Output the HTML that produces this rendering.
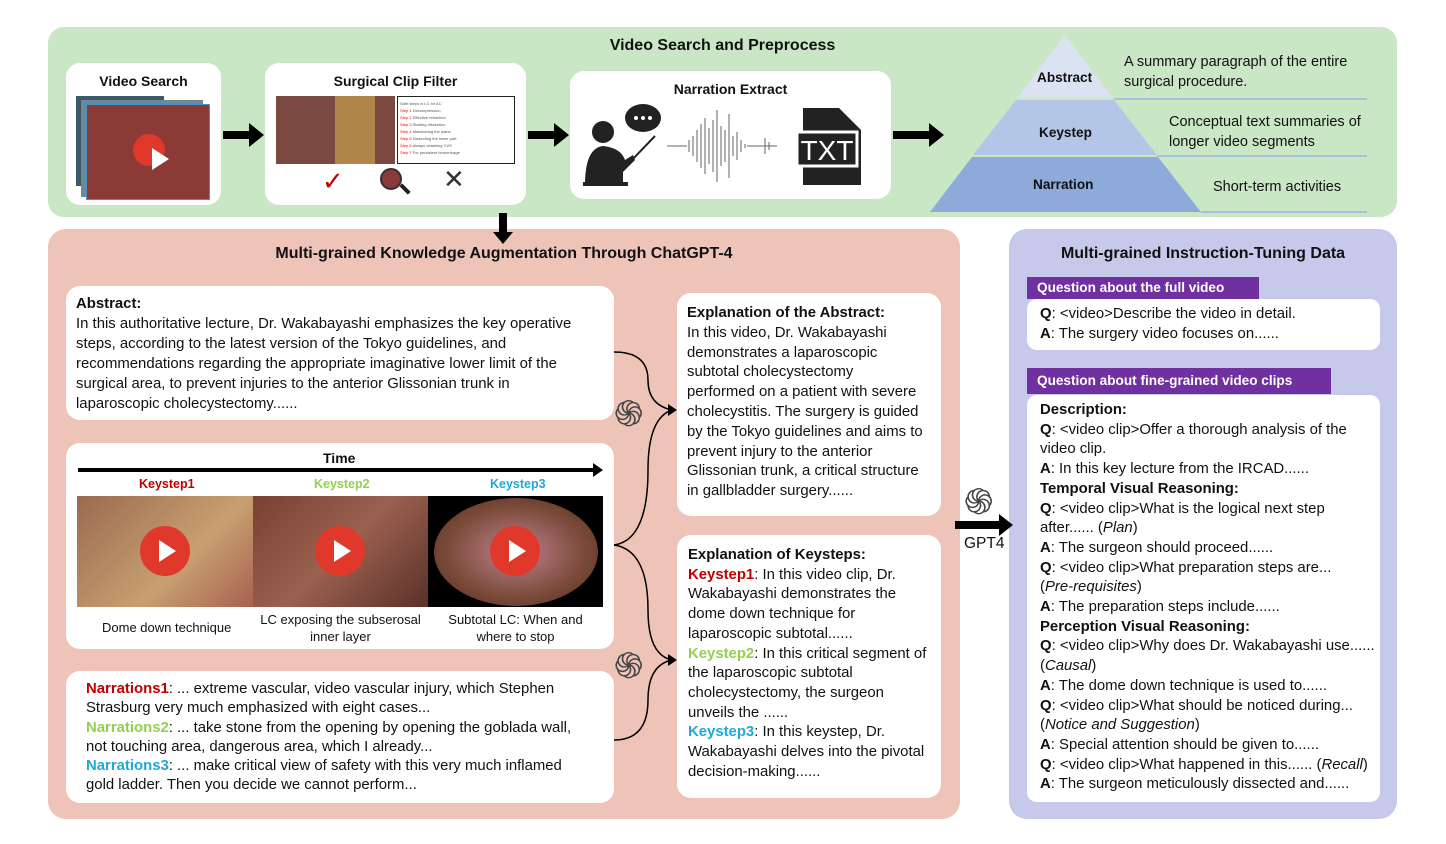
<!DOCTYPE html>
<html><head><meta charset="utf-8"><style>
*{margin:0;padding:0;box-sizing:border-box}
body{width:1446px;height:844px;background:#fff;position:relative;overflow:hidden;font-family:"Liberation Sans",sans-serif;color:#111}
.a{position:absolute}
.box{position:absolute;background:#fff;border-radius:14px}
.t{position:absolute;font-size:14.9px;white-space:nowrap}
.h{font-weight:bold}
.r{color:#c00000;font-weight:bold}.g{color:#92d050;font-weight:bold}.b{color:#1fa8d8;font-weight:bold}
.ttl{position:absolute;font-weight:bold;font-size:16px;text-align:center;white-space:nowrap}
.ph{position:absolute;background:#7030a0;color:#fff;font-weight:bold;font-size:13.6px;padding-left:10px;line-height:22px}
.play{position:absolute;width:50px;height:50px;border-radius:50%;background:#e0392b}
.play:after{content:"";position:absolute;left:19px;top:14px;border-left:17px solid #fff;border-top:11px solid transparent;border-bottom:11px solid transparent}
</style></head><body>

<!-- top green -->
<div class="a" style="left:48px;top:27px;width:1349px;height:190px;background:#c9e7c4;border-radius:16px"></div>
<div class="ttl" style="left:560px;top:37px;width:325px">Video Search and Preprocess</div>

<div class="box" style="left:66px;top:63px;width:155px;height:142px"></div>
<div class="ttl" style="left:66px;top:73px;width:155px;font-size:14px">Video Search</div>
<div class="a" style="left:76px;top:96px;width:88px;height:90px;background:#3a5a6a"></div>
<div class="a" style="left:81px;top:100px;width:122px;height:97px;background:#6a8a9a"></div>
<div class="a" style="left:86px;top:104px;width:124px;height:96px;background:#8b3a36;border:1px solid #4a90c0"></div>
<div class="play" style="left:133px;top:134px;width:32px;height:32px"></div>

<div class="box" style="left:265px;top:63px;width:261px;height:142px"></div>
<div class="ttl" style="left:265px;top:73px;width:261px;font-size:14px">Surgical Clip Filter</div>
<div class="a" style="left:276px;top:96px;width:119px;height:68px;background:#7a4a40"></div>
<div class="a" style="left:335px;top:96px;width:40px;height:68px;background:#c8a050;opacity:.7"></div>
<div class="a" style="left:397px;top:96px;width:118px;height:68px;border:1px solid #222;background:#fff"></div>
<div class="a" style="left:400px;top:100px;width:112px;font-size:4px;line-height:7px;color:#555">Safe steps in LC for AC<br><span style="color:red">Step 1</span> Decompression<br><span style="color:red">Step 2</span> Effective retraction<br><span style="color:red">Step 3</span> Starting dissection<br><span style="color:red">Step 4</span> Maintaining the plane<br><span style="color:red">Step 5</span> Dissecting the lower part<br><span style="color:red">Step 6</span> Always obtaining CVS<br><span style="color:red">Step 7</span> For persistent hemorrhage</div>
<div class="a" style="left:322px;top:166px;font-size:26px;color:#c00000">✓</div>
<div class="a" style="left:380px;top:168px;width:22px;height:22px;border-radius:50%;background:#8a3a3a;border:2px solid #333"></div>
<div class="a" style="left:399px;top:187px;width:12px;height:4px;background:#222;transform:rotate(45deg)"></div>
<div class="a" style="left:443px;top:164px;font-size:26px;color:#333">✕</div>

<div class="box" style="left:570px;top:71px;width:321px;height:128px"></div>
<div class="ttl" style="left:570px;top:81px;width:321px;font-size:14px">Narration Extract</div>
<svg class="a" style="left:575px;top:100px" width="315" height="92">
<circle cx="28" cy="32" r="11" fill="#222"/><path d="M10 85 Q10 48 28 46 Q46 48 50 60 L58 55 L60 60 L48 72 L48 85 Z" fill="#222"/>
<rect x="8" y="82" width="45" height="4" fill="#222"/>
<line x1="55" y1="62" x2="80" y2="36" stroke="#222" stroke-width="2"/>
<ellipse cx="68" cy="18" rx="18" ry="14" fill="#222"/><circle cx="61" cy="18" r="2" fill="#fff"/><circle cx="68" cy="18" r="2" fill="#fff"/><circle cx="75" cy="18" r="2" fill="#fff"/>
<g stroke="#666" stroke-width="1">
<path d="M92 46 h20 M114 40v12 M118 36v20 M122 30v32 M126 24v44 M130 18v56 M134 28v36 M138 20v52 M142 10v72 M146 26v40 M150 30v32 M154 14v64 M158 36v20 M162 32v28 M166 40v12 M170 44v4 M172 46h30 M190 38v16 M194 42v8"/></g>
<path d="M228 8 h36 l22 22 v55 h-58 z" fill="#222"/><rect x="222" y="32" width="60" height="34" fill="#222" stroke="#fff" stroke-width="3"/>
<text x="252" y="60" font-family="Liberation Sans" font-size="28" fill="#fff" text-anchor="middle">TXT</text>
</svg>

<!-- pyramid -->
<svg class="a" style="left:0;top:0" width="1446" height="230">
<polygon points="1065,35 1113,98 1017,98" fill="#dbe3f3"/>
<polygon points="1016,100 1114,100 1157,155 973,155" fill="#b4c6e7"/>
<polygon points="972,157 1158,157 1201,212 930,212" fill="#8eaadb"/>
<g stroke="#a8c0dc" stroke-width="2"><line x1="1114" y1="99" x2="1367" y2="99"/><line x1="1157" y1="156" x2="1367" y2="156"/><line x1="1201" y1="212" x2="1367" y2="212"/></g>
</svg>
<div class="t h" style="left:1037px;top:70px;font-size:13.6px">Abstract</div>
<div class="t h" style="left:1039px;top:125px;font-size:13.6px">Keystep</div>
<div class="t h" style="left:1033px;top:177px;font-size:13.6px">Narration</div>
<div class="t" style="left:1124px;top:52px;line-height:20px;font-size:14.5px">A summary paragraph of the entire<br>surgical procedure.</div>
<div class="t" style="left:1169px;top:112px;line-height:20px;font-size:14.5px">Conceptual text summaries of<br>longer video segments</div>
<div class="t" style="left:1213px;top:179px;font-size:14.5px">Short-term activities</div>

<!-- pink -->
<div class="a" style="left:48px;top:229px;width:912px;height:590px;background:#eec4b8;border-radius:18px"></div>
<div class="ttl" style="left:48px;top:245px;width:912px">Multi-grained Knowledge Augmentation Through ChatGPT-4</div>

<div class="box" style="left:66px;top:286px;width:548px;height:134px"></div>
<div class="t" style="left:76px;top:294px;line-height:20px"><span class="h">Abstract:</span><br>In this authoritative lecture, Dr. Wakabayashi emphasizes the key operative<br>steps, according to the latest version of the Tokyo guidelines, and<br>recommendations regarding the appropriate imaginative lower limit of the<br>surgical area, to prevent injuries to the anterior Glissonian trunk in<br>laparoscopic cholecystectomy......</div>

<div class="box" style="left:66px;top:443px;width:548px;height:206px"></div>
<div class="t h" style="left:323px;top:450px;font-size:14px">Time</div>
<div class="t r" style="left:139px;top:477px;font-size:12.5px">Keystep1</div>
<div class="t g" style="left:314px;top:477px;font-size:12.5px">Keystep2</div>
<div class="t b" style="left:490px;top:477px;font-size:12.5px">Keystep3</div>
<div class="a" style="left:77px;top:496px;width:176px;height:111px;background:linear-gradient(135deg,#9a6a50,#c8a070 60%,#a86050)"></div>
<div class="a" style="left:253px;top:496px;width:175px;height:111px;background:linear-gradient(135deg,#7a4030,#9a6050 50%,#5a3028)"></div>
<div class="a" style="left:428px;top:496px;width:175px;height:111px;background:#000"></div>
<div class="a" style="left:434px;top:498px;width:164px;height:108px;border-radius:50%;background:radial-gradient(#c08090,#7a4a38 60%,#4a2a20)"></div>
<div class="play" style="left:140px;top:526px"></div>
<div class="play" style="left:315px;top:526px"></div>
<div class="play" style="left:490px;top:526px"></div>
<div class="t" style="left:102px;top:620px;font-size:13px">Dome down technique</div>
<div class="t" style="left:253px;top:611px;width:175px;text-align:center;font-size:13px;line-height:17px">LC exposing the subserosal<br>inner layer</div>
<div class="t" style="left:428px;top:611px;width:175px;text-align:center;font-size:13px;line-height:17px">Subtotal LC: When and<br>where to stop</div>

<div class="box" style="left:66px;top:671px;width:548px;height:132px"></div>
<div class="t" style="left:86px;top:680px;line-height:19.3px"><span class="r">Narrations1</span>: ... extreme vascular, video vascular injury, which Stephen<br>Strasburg very much emphasized with eight cases...<br><span class="g">Narrations2</span>: ... take stone from the opening by opening the goblada wall,<br>not touching area, dangerous area, which I already...<br><span class="b">Narrations3</span>: ... make critical view of safety with this very much inflamed<br>gold ladder. Then you decide we cannot perform...</div>

<div class="a" style="left:614px;top:388px;font-size:36px;color:#444">֍</div>
<div class="a" style="left:614px;top:640px;font-size:36px;color:#444">֍</div>

<div class="box" style="left:677px;top:293px;width:264px;height:223px"></div>
<div class="t" style="left:687px;top:304px;line-height:19.8px"><span class="h">Explanation of the Abstract:</span><br>In this video, Dr. Wakabayashi<br>demonstrates a laparoscopic<br>subtotal cholecystectomy<br>performed on a patient with severe<br>cholecystitis. The surgery is guided<br>by the Tokyo guidelines and aims to<br>prevent injury to the anterior<br>Glissonian trunk, a critical structure<br>in gallbladder surgery......</div>

<div class="box" style="left:677px;top:535px;width:264px;height:263px"></div>
<div class="t" style="left:688px;top:546px;line-height:19.7px"><span class="h">Explanation of Keysteps:</span><br><span class="r">Keystep1</span>: In this video clip, Dr.<br>Wakabayashi demonstrates the<br>dome down technique for<br>laparoscopic subtotal......<br><span class="g">Keystep2</span>: In this critical segment of<br>the laparoscopic subtotal<br>cholecystectomy, the surgeon<br>unveils the ......<br><span class="b">Keystep3</span>: In this keystep, Dr.<br>Wakabayashi delves into the pivotal<br>decision-making......</div>

<div class="a" style="left:964px;top:476px;font-size:36px;color:#444">֍</div>
<div class="t" style="left:964px;top:535px;font-size:15.5px">GPT4</div>

<!-- purple -->
<div class="a" style="left:1009px;top:229px;width:388px;height:590px;background:#c6c9ea;border-radius:18px"></div>
<div class="ttl" style="left:1009px;top:245px;width:388px">Multi-grained Instruction-Tuning Data</div>
<div class="ph" style="left:1027px;top:277px;width:232px">Question about the full video</div>
<div class="box" style="left:1027px;top:299px;width:353px;height:51px;border-radius:10px"></div>
<div class="t" style="left:1040px;top:305px;line-height:19.5px"><b>Q</b>: &lt;video&gt;Describe the video in detail.<br><b>A</b>: The surgery video focuses on......</div>
<div class="ph" style="left:1027px;top:368px;width:304px;line-height:26px">Question about fine-grained video clips</div>
<div class="box" style="left:1027px;top:395px;width:353px;height:407px;border-radius:10px"></div>
<div class="t" style="left:1040px;top:401px;line-height:19.7px"><b>Description:</b><br><b>Q</b>: &lt;video clip&gt;Offer a thorough analysis of the<br>video clip.<br><b>A</b>: In this key lecture from the IRCAD......<br><b>Temporal Visual Reasoning:</b><br><b>Q</b>: &lt;video clip&gt;What is the logical next step<br>after...... (<i>Plan</i>)<br><b>A</b>: The surgeon should proceed......<br><b>Q</b>: &lt;video clip&gt;What preparation steps are...<br>(<i>Pre-requisites</i>)<br><b>A</b>: The preparation steps include......<br><b>Perception Visual Reasoning:</b><br><b>Q</b>: &lt;video clip&gt;Why does Dr. Wakabayashi use......<br>(<i>Causal</i>)<br><b>A</b>: The dome down technique is used to......<br><b>Q</b>: &lt;video clip&gt;What should be noticed during...<br>(<i>Notice and Suggestion</i>)<br><b>A</b>: Special attention should be given to......<br><b>Q</b>: &lt;video clip&gt;What happened in this...... (<i>Recall</i>)<br><b>A</b>: The surgeon meticulously dissected and......</div>

<!-- arrows & braces on top -->
<svg class="a" style="left:0;top:0" width="1446" height="844">
<g fill="#000">
<path d="M223 131h26v-8l15 12-15 12v-8h-26z"/>
<path d="M528 131h26v-8l15 12-15 12v-8h-26z"/>
<path d="M893 131h36v-8l15 12-15 12v-8h-36z"/>
<path d="M499 213h8v19h6l-10 12-10-12h6z"/>
<path d="M955 521h44v-7l14 11-14 11v-7h-44z"/>
<path d="M78 468h515v-5l10 7-10 7v-5H78z"/>
</g>
<g fill="none" stroke="#000" stroke-width="1.5">
<path d="M614 352 Q648 352 648 380 Q648 405 672 410"/>
<path d="M614 545 Q648 540 648 470 Q648 418 672 410"/>
<path d="M614 545 Q648 550 648 610 Q648 655 672 660"/>
<path d="M614 740 Q648 740 648 700 Q648 665 672 660"/>
</g>
<path d="M677 410l-9-6v12z M677 660l-9-6v12z" fill="#000"/>
</svg>
</body></html>
